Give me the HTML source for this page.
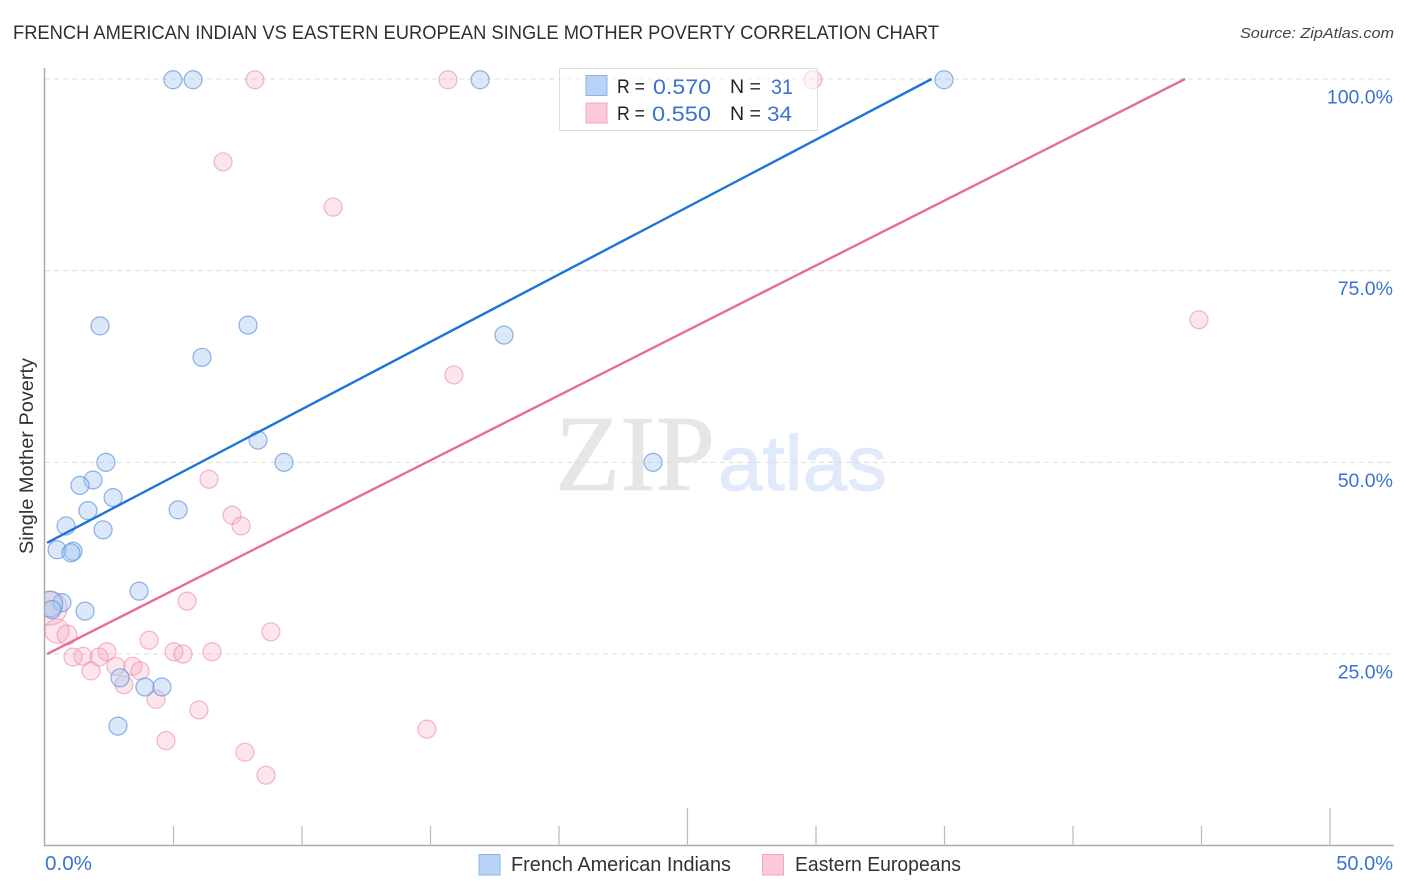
<!DOCTYPE html>
<html lang="en">
<head>
<meta charset="utf-8">
<title>French American Indian vs Eastern European Single Mother Poverty Correlation Chart</title>
<style>
html,body{margin:0;padding:0;background:#fff;width:1406px;height:892px;overflow:hidden}
svg{display:block;font-family:"Liberation Sans",sans-serif}
</style>
</head>
<body>
<svg id="chart" xmlns="http://www.w3.org/2000/svg" width="1406" height="892" viewBox="0 0 1406 892">
  <text x="13" y="39" font-size="19" fill="#2f2f33" textLength="926" lengthAdjust="spacingAndGlyphs">FRENCH AMERICAN INDIAN VS EASTERN EUROPEAN SINGLE MOTHER POVERTY CORRELATION CHART</text>
  <text x="1394" y="38" font-size="15" font-style="italic" fill="#444" text-anchor="end" textLength="154" lengthAdjust="spacingAndGlyphs">Source: ZipAtlas.com</text>
  <g>
    <text x="555" y="490" font-family="'Liberation Serif',serif" font-size="108" fill="#e6e6e6" stroke="#e6e6e6" stroke-width="0.8" textLength="160" lengthAdjust="spacingAndGlyphs">ZIP</text>
    <text x="718" y="490" font-size="78" fill="#e0eafa" stroke="#e0eafa" stroke-width="1" textLength="169" lengthAdjust="spacingAndGlyphs">atlas</text>
  </g>
  <g id="grid"></g>
  <g id="marks"></g>
  <rect x="0" y="560" width="44.5" height="100" fill="#fff"/>
  <g id="axes"></g>
  <text transform="translate(33,554) rotate(-90)" font-size="19" fill="#333" textLength="196" lengthAdjust="spacingAndGlyphs">Single Mother Poverty</text>
  <g>
    <rect x="559.5" y="68.5" width="258" height="62" fill="#fff" fill-opacity="0.55" stroke="#ddd" stroke-width="1"/>
    <rect x="586" y="75.5" width="21" height="20" fill="#b9d3f7" stroke="#8fb3e6"/>
    <rect x="586" y="103" width="21" height="20" fill="#fcc9da" stroke="#f0a5bf"/>
    <text x="617" y="93" font-size="19" fill="#222" textLength="28" lengthAdjust="spacingAndGlyphs">R =</text>
    <text x="653" y="94" font-size="21" fill="#3b73d1" textLength="58" lengthAdjust="spacingAndGlyphs">0.570</text>
    <text x="730" y="93" font-size="19" fill="#222" textLength="31" lengthAdjust="spacingAndGlyphs">N =</text>
    <text x="771" y="94" font-size="21" fill="#3b73d1" textLength="22" lengthAdjust="spacingAndGlyphs">31</text>
    <text x="617" y="120" font-size="19" fill="#222" textLength="28" lengthAdjust="spacingAndGlyphs">R =</text>
    <text x="652" y="121" font-size="21" fill="#3b73d1" textLength="59" lengthAdjust="spacingAndGlyphs">0.550</text>
    <text x="730" y="120" font-size="19" fill="#222" textLength="31" lengthAdjust="spacingAndGlyphs">N =</text>
    <text x="767" y="121" font-size="21" fill="#3b73d1" textLength="25" lengthAdjust="spacingAndGlyphs">34</text>
  </g>
  <g>
    <rect x="479" y="854.5" width="21" height="20.5" fill="#b9d3f7" stroke="#8fb3e6"/>
    <text x="511" y="871" font-size="20" fill="#333" textLength="220" lengthAdjust="spacingAndGlyphs">French American Indians</text>
    <rect x="762.5" y="854.5" width="21" height="20.5" fill="#fcc9da" stroke="#f0a5bf"/>
    <text x="795" y="871" font-size="20" fill="#333" textLength="166" lengthAdjust="spacingAndGlyphs">Eastern Europeans</text>
  </g>
</svg>
<script>
const blueX = [4.98,5.76,16.93,34.98,2.14,7.90,17.86,6.11,8.29,2.37,9.30,23.66,1.87,1.36,2.65,1.67,5.18,0.82,2.26,0.47,1.09,1.01,3.66,0.66,1.56,0.19,0.27,2.92,3.89,4.55,2.84];
const blueY = [99.9,99.9,99.9,99.9,67.8,67.9,66.6,63.7,52.9,50.0,50.0,50.0,47.7,47.0,45.4,43.7,43.8,41.7,41.2,38.6,38.4,38.2,33.2,31.7,30.6,31.5,30.8,21.9,20.7,20.7,15.6];
const blueWeight = [1,1,1,1,1,1,1,1,1,1,1,1,1,1,1,1,1,1,1,1,1,1,1,1,1,2,1,1,1,1,1];
const pinkX = [8.17,15.68,29.88,6.93,11.21,44.90,15.91,6.38,7.28,7.63,5.53,0.19,8.79,0.47,0.86,4.05,5.02,5.37,6.50,2.41,1.48,2.10,1.09,2.76,3.42,3.70,1.79,3.07,4.32,5.99,14.86,4.71,7.78,8.60];
const pinkY = [99.9,99.9,99.9,89.2,83.3,68.6,61.4,47.8,43.1,41.7,31.9,31.0,27.9,28.0,27.5,26.8,25.3,25.0,25.3,25.3,24.7,24.6,24.6,23.4,23.4,22.8,22.8,21.0,19.1,17.7,15.2,13.7,12.2,9.2];
const pinkWeight = [1,1,1,1,1,1,1,1,1,1,1,3.6,1,1.8,1.2,1,1,1,1,1,1,1,1,1,1,1,1,1,1,1,1,1,1,1];
const blueTrendX = [0.08,34.5];
const blueTrendY = [39.5,100];
const pinkTrendX = [0.08,44.36];
const pinkTrendY = [25,100];
const yTicks = [25,50,75,100];
const yTickLabels = ["25.0%","50.0%","75.0%","100.0%"];
const xTicks = [0,5,10,15,20,25,30,35,40,45,50];
const xMajorTicks = [25,50];
const xEndLabels = ["0.0%","50.0%"];

const sx = v => 45 + v * 25.7;
const sy = v => 845.7 - v * 7.667;
const NS = "http://www.w3.org/2000/svg";
const mk = (parent, tag, attrs, text) => {
  const el = document.createElementNS(NS, tag);
  for (const k in attrs) el.setAttribute(k, attrs[k]);
  if (text !== undefined) el.textContent = text;
  parent.appendChild(el);
  return el;
};
const grid = document.getElementById("grid");
const axes = document.getElementById("axes");
const marks = document.getElementById("marks");

yTicks.forEach((t, i) => {
  const line = mk(grid, "line", {x1: 45, x2: 1394, y1: sy(t), y2: sy(t), stroke: "#dcdcdc", "stroke-width": 1, "stroke-dasharray": "5 4"});
  
  
  const label = mk(axes, "text", {x: 1393, y: sy(t) + 24.5, "font-size": 19.5, fill: "#3b73d1", "text-anchor": "end"}, yTickLabels[i]);
  
  
});

const yAxis = mk(axes, "line", {x1: 44.5, x2: 44.5, y1: 68, y2: 846, stroke: "#aaa", "stroke-width": 1.5});


const xAxis = mk(axes, "line", {x1: 44, x2: 1394, y1: 845.5, y2: 845.5, stroke: "#aaa", "stroke-width": 1.5});



xTicks.forEach(t => {
  if (t === 0) return;
  const major = xMajorTicks.includes(t);
  const tick = mk(axes, "line", {x1: sx(t), x2: sx(t), y1: major ? 808 : 826, y2: 846, stroke: "#bbb", "stroke-width": 1.2});
  
  
});

const xLabelStart = mk(axes, "text", {x: 45, y: 870, "font-size": 20, fill: "#3b73d1", textLength: 47, lengthAdjust: "spacingAndGlyphs"}, xEndLabels[0]);


const xLabelEnd = mk(axes, "text", {x: 1393, y: 870, "font-size": 20, fill: "#3b73d1", "text-anchor": "end"}, xEndLabels[1]);



pinkX.forEach((x, i) => {
  const dot = mk(marks, "circle", {cx: sx(x), cy: sy(pinkY[i]), r: 9 * Math.sqrt(pinkWeight[i]), fill: "#f9a8c4", "fill-opacity": 0.3, stroke: "#ec8fae", "stroke-opacity": 0.65, "stroke-width": 1.2});
  
  
});
blueX.forEach((x, i) => {
  const dot = mk(marks, "circle", {cx: sx(x), cy: sy(blueY[i]), r: 9 * Math.sqrt(blueWeight[i]), fill: "#a3c6f3", "fill-opacity": 0.4, stroke: "#5f93dc", "stroke-opacity": 0.7, "stroke-width": 1.2});
  
  
});

const blueLine = mk(axes, "line", {x1: sx(blueTrendX[0]), y1: sy(blueTrendY[0]), x2: sx(blueTrendX[1]), y2: sy(blueTrendY[1]), stroke: "#1f74d8", "stroke-width": 2.4});


const pinkLine = mk(axes, "line", {x1: sx(pinkTrendX[0]), y1: sy(pinkTrendY[0]), x2: sx(pinkTrendX[1]), y2: sy(pinkTrendY[1]), stroke: "#e86c99", "stroke-width": 2.4});


</script>
</body>
</html>
